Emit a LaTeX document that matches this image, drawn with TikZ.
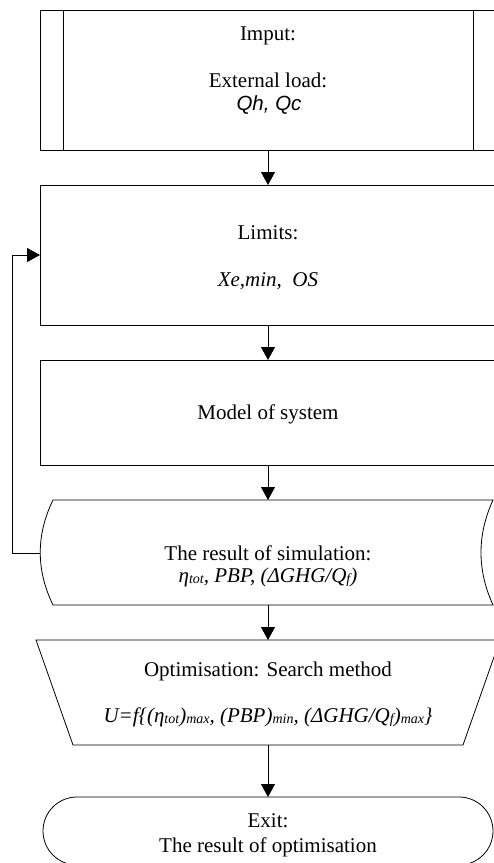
\documentclass[tikz,border=0pt]{standalone}
\usepackage{fontspec}
\setmainfont{Liberation Serif}
\newfontfamily\arialfont{Liberation Sans}
\usetikzlibrary{arrows.meta,shapes.misc}
\newcommand{\sbs}[1]{\raisebox{-1.5pt}{\fontsize{14}{14}\selectfont #1}}
\begin{document}
\begin{tikzpicture}[x=1pt,y=1pt,
  every node/.style={inner sep=0pt,outer sep=0pt},
  line/.style={line width=0.8pt,black},
  flow/.style={line,-{Triangle[width=14pt,length=13pt]}},
  boxshape/.style={line,draw,rectangle,minimum width=456pt},
  ghost/.style={draw=none,rectangle,minimum width=440pt},
  lbl/.style={anchor=base,font=\fontsize{21}{24}\selectfont}
]
\useasboundingbox (0,0) rectangle (494,-863);
\clip (0,0) rectangle (494,-863);

% Input box (predefined process)
\node[boxshape,minimum height=140pt] (imp) at (268,-80) {};
\draw[line] (63,-10) -- (63,-150);
\draw[line] (473,-10) -- (473,-150);
\node[lbl] (t1) at (268,-40) {Imput:};
\node[lbl] (t2) at (268,-87) {External load:};
\node[lbl,font=\arialfont\itshape\fontsize{20.5}{22}\selectfont] (t3) at (269,-110) {Qh, Qc};

% Limits box
\node[boxshape,minimum height=140pt] (lim) at (268,-255) {};
\node[lbl] (t4) at (268,-239) {Limits:};
\node[lbl] (t5) at (268,-286) {\itshape Xe,min,\ \ OS};

% Model box
\node[boxshape,minimum height=105pt] (mod) at (268,-412.5) {};
\node[lbl] (t6) at (268,-419) {Model of system};

% Result (stored data)
\node[ghost,minimum height=105pt] (res) at (268,-552.5) {};
\draw[line] (53,-500) -- (493,-500)
  .. controls (477,-535) and (477,-570) .. (493,-605)
  -- (53,-605)
  .. controls (36,-570) and (36,-535) .. (53,-500) -- cycle;
\coordinate (resw) at (40,-553);
\node[lbl] (t7) at (268,-560) {The result of simulation:};
\node[lbl] (t8) at (268,-582) {\itshape η\sbs{tot}, PBP, (ΔGHG/Q\sbs{f})};

% Optimisation (trapezium)
\node[ghost,minimum height=105pt] (opt) at (268,-692.5) {};
\draw[line] (36,-640) -- (500,-640) -- (463,-745) -- (73,-745) -- cycle;
\node[lbl] (t9) at (268,-676) {Optimisation: Search method};
\node[lbl] (t10) at (268,-722) {\itshape U=f\{(η\sbs{tot})\sbs{max}, (PBP)\sbs{min}, (ΔGHG/Q\sbs{f})\sbs{max}\}};

% Exit (terminal)
\node[line,draw,rounded rectangle,minimum width=450pt,minimum height=68pt] (ex) at (268,-831) {};
\node[lbl] (t11) at (268,-827) {Exit:};
\node[lbl] (t12) at (268,-852) {The result of optimisation};

% Connectors
\draw[flow] (imp.south) -- (lim.north);
\draw[flow] (lim.south) -- (mod.north);
\draw[flow] (mod.south) -- (res.north);
\draw[flow] (res.south) -- (opt.north);
\draw[flow] (opt.south) -- (ex.north);
\draw[flow] (resw) -- (12,-553) |- (lim.west);
\end{tikzpicture}
\end{document}
